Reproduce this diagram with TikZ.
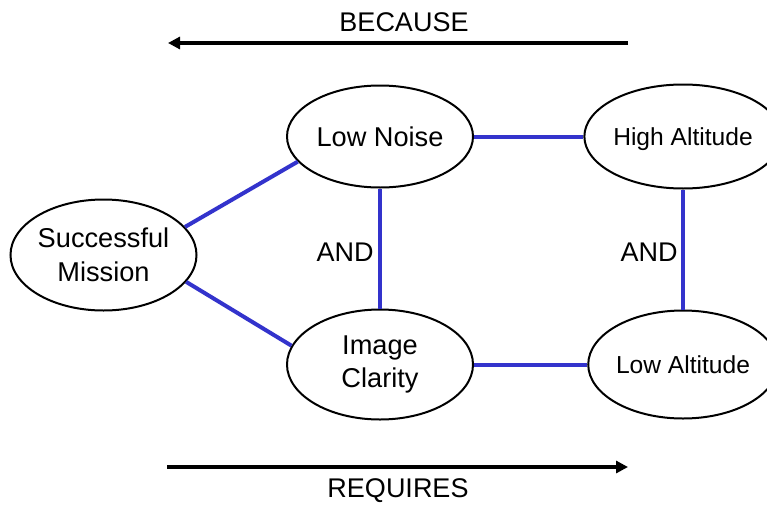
\documentclass[tikz,border=0pt]{standalone}
\usepackage{fontspec}
\setmainfont{Liberation Sans}
\usetikzlibrary{shapes.geometric,arrows.meta}
\definecolor{linkblue}{RGB}{51,51,204}
\begin{document}
\begin{tikzpicture}[x=1pt,y=-1pt,
  bubble/.style={ellipse,draw=black,line width=2pt,inner sep=0pt,align=center,
    font=\fontsize{27.2}{33.5}\selectfont},
  smallbubble/.style={bubble,font=\fontsize{24.6}{30}\selectfont,text depth=0pt},
  link/.style={draw=linkblue,line width=4pt},
  bigarrow/.style={draw=black,line width=4pt,-{Triangle[length=12pt,width=12pt]}},
  lbl/.style={font=\fontsize{27}{33}\selectfont,inner sep=0pt}]
\useasboundingbox (0,0) rectangle (767,506);
\node[bubble,minimum width=185pt,minimum height=111pt] (sm) at (103.5,255) {Successful\\Mission};
\node[bubble,minimum width=186pt,minimum height=102pt] (ln) at (380,136.5) {Low Noise};
\node[smallbubble,minimum width=180pt,minimum height=104pt] (ha) at (683,136.5) {High Altitude};
\node[bubble,minimum width=186pt,minimum height=110pt] (ic) at (380,364.5) {Image\\Clarity};
\node[smallbubble,minimum width=180pt,minimum height=108pt] (la) at (683,364.5) {Low Altitude};
\draw[link] (sm.19) -- (ln.197);
\draw[link] (sm.-18) -- (ic.168);
\draw[link] (ln.east) -- (ha.west);
\draw[link] (ic.east) -- (la.west);
\draw[link] (ln.south) -- (ic.north);
\draw[link] (ha.south) -- (la.north);
\node[lbl] (and1) at (345,252) {AND};
\node[lbl] (and2) at (649,252) {AND};
\coordinate (b1) at (628,43);
\coordinate (b2) at (168,43);
\draw[bigarrow] (b1) -- (b2);
\node[lbl] (because) at (404,22) {BECAUSE};
\coordinate (r1) at (167,467);
\coordinate (r2) at (628,467);
\draw[bigarrow] (r1) -- (r2);
\node[lbl] (requires) at (398,491) {REQUIRES};
\end{tikzpicture}
\end{document}
